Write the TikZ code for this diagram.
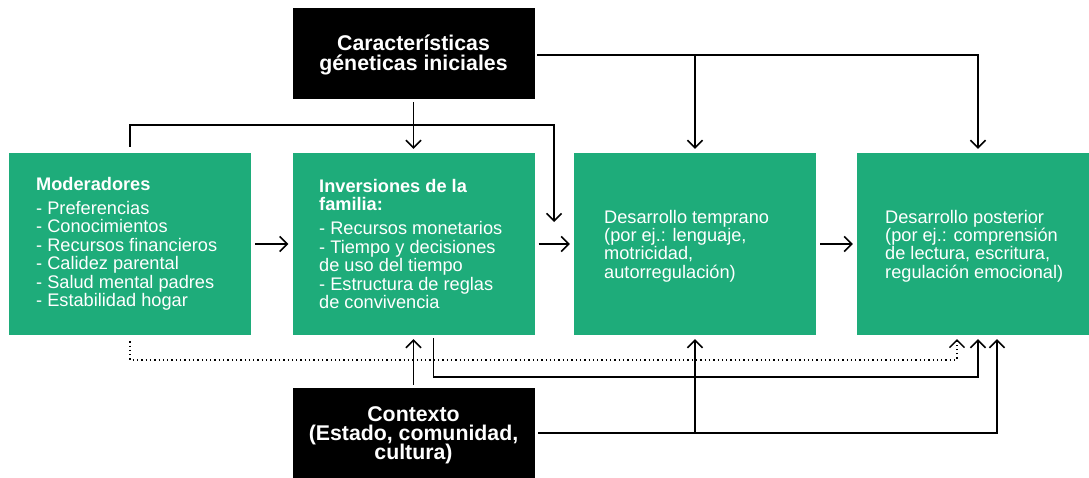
\documentclass[tikz,border=0pt]{standalone}
\usepackage{fontspec}
\setmainfont{Liberation Sans}
\usetikzlibrary{arrows.meta,calc}
\definecolor{gr}{RGB}{30,172,122}
\newcommand{\mytightls}{\lineskiplimit=-30pt\relax}
\begin{document}
\begin{tikzpicture}[x=1pt,y=-1pt,
  gbox/.style={fill=gr, draw=none, minimum width=242pt, minimum height=182pt, inner sep=0pt},
  bbox/.style={fill=black, draw=none, minimum width=242pt, inner sep=0pt},
  gtxt/.style={text=white, align=left, inner sep=0pt, anchor=west, font={\fontsize{18.2}{18.5}\selectfont\mytightls}},
  btxt/.style={text=white, align=center, inner sep=0pt},
  conn/.style={line width=1.6pt},
  arr/.style={conn, -{Straight Barb[length=7.5pt,width=15pt]}, shorten >=4pt},
  dotarr/.style={line width=1.3pt, dash pattern=on 1.3pt off 3pt, -{Straight Barb[length=7.5pt,width=15pt]}, shorten >=4pt}]

\useasboundingbox (0,0) rectangle (1089,477);

% boxes
\node[bbox, minimum height=91pt] (top) at (413.5,53.5) {};
\node[bbox, minimum height=95pt] (ctx) at (413.5,435.5) {};
\node[gbox] (m) at (130,244) {};
\node[gbox] (inv) at (413.5,244) {};
\node[gbox] (dt) at (695,244) {};
\node[gbox, minimum width=232pt] (dp) at (973,244) {};

% texts
\node[btxt, font={\fontsize{21.3}{20}\selectfont\bfseries\mytightls}] (topt) at (413.5,55) {Características\\géneticas iniciales};
\node[btxt, font={\fontsize{21.3}{19.2}\selectfont\bfseries\mytightls}] (ctxt) at (413.5,435) {Contexto\\(Estado, comunidad,\\cultura)};
\node[gtxt] (mt) at (36,244) {\textbf{Moderadores}\\[5.4pt]- Preferencias\\- Conocimientos\\- Recursos financieros\\- Calidez parental\\- Salud mental padres\\- Estabilidad hogar};
\node[gtxt] (invt) at (319,244) {\textbf{Inversiones de la}\\\textbf{familia:}\\[5.4pt]- Recursos monetarios\\- Tiempo y decisiones\\de uso del tiempo\\- Estructura de reglas\\de convivencia};
\node[gtxt, font={\fontsize{18.2}{18.3}\selectfont\mytightls}] (dtt) at (604,246) {Desarrollo temprano\\(por ej.: lenguaje,\\motricidad,\\autorregulación)};
\node[gtxt, font={\fontsize{18.2}{18.3}\selectfont\mytightls}] (dpt) at (885,246) {Desarrollo posterior\\(por ej.: comprensión\\de lectura, escritura,\\regulación emocional)};

% helper coordinates
\coordinate (busT) at (0,125);
\coordinate (jmp) at (554,222);
\coordinate (tr) at (537,55);
\coordinate (busB) at (0,377);
\coordinate (busD) at (0,360);
\coordinate (ctxR) at (538,433);
\coordinate (mT) at ($(m.north)+(0,-6)$);
\coordinate (mB) at ($(m.south)+(0,6)$);
\coordinate (invB) at ($(inv.south)+(20,3)$);

% connectors
\draw[arr, shorten <=3pt] (top.south) -- (inv.north);
\draw[arr, shorten >=0pt] (mT) -- (mT |- busT) -| (jmp);
\draw[arr, shorten <=4pt] (m.east) -- (inv.west);
\draw[arr, shorten <=4pt] (inv.east) -- (dt.west);
\draw[arr, shorten <=4pt] (dt.east) -- (dp.west);
\draw[arr] (tr) -| ($(dp.north)+(5,0)$);
\draw[arr] (dt.north |- tr) -- (dt.north);
\draw[arr, shorten <=3pt] (ctx.north) -- (inv.south);
\draw[arr] (invB) -- (invB |- busB) -| ($(dp.south)+(5,0)$);
\draw[dotarr] (mB) -- (mB |- busD) -| ($(dp.south)+(-16,0)$);
\draw[arr] (ctxR) -| ($(dp.south)+(24,0)$);
\draw[arr] (dt.south |- ctxR) -- (dt.south);
\end{tikzpicture}
\end{document}
